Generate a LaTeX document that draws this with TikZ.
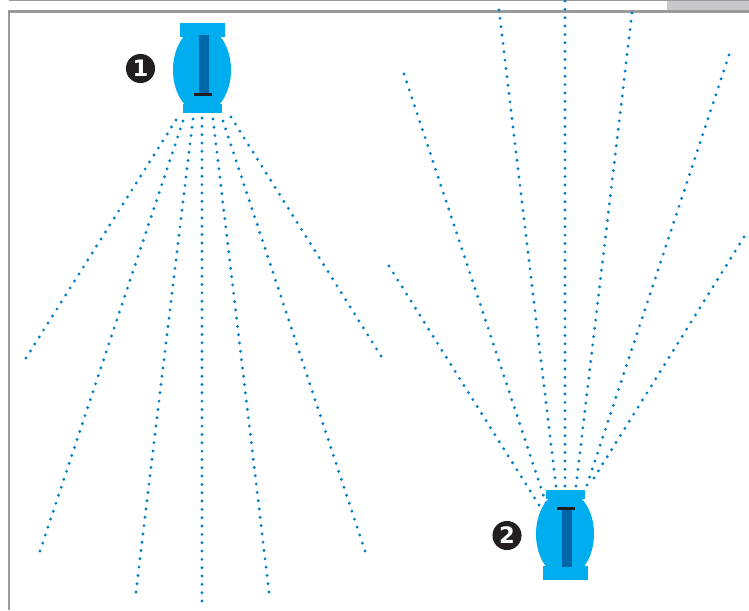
\documentclass[tikz,border=0pt]{standalone}
\usepackage{fontspec}
\usetikzlibrary{decorations}
\setmainfont{DejaVu Sans}
\definecolor{bodyblue}{HTML}{00AEEF}
\definecolor{slotblue}{HTML}{0068A8}
\definecolor{beamblue}{HTML}{0080C4}
\definecolor{framegray}{HTML}{9A9A9C}
\definecolor{tabgray}{HTML}{C8C8CA}
\definecolor{markblack}{HTML}{231F20}
\tikzset{
  beam/.style={beamblue, line width=2.4pt, line cap=round, dash pattern=on 0pt off 6.2pt, dash expand off},
  marker/.style={circle, fill=markblack, text=white, inner sep=0pt, minimum size=21.8pt, font=\bfseries\fontsize{17}{17}\selectfont}
}
\begin{document}
\begin{tikzpicture}[x=0.75pt, y=-0.75pt]
        \useasboundingbox (0,0) rectangle (749,610);
        % frame
        \fill [tabgray] (667,0) rectangle (749,10);
        \draw [framegray, line width=1.2pt] (9,0.5) --(749,0.5);
        \draw [framegray, line width=1.6pt] (9,610) --(9,11.5) --(749,11.5);
        % end points of the beams
        \coordinate (a1) at (180.4,113);
        \coordinate (a2) at (183,121);
        \coordinate (a3) at (193,119);
        \coordinate (a4) at (202,118);
        \coordinate (a5) at (213,119);
        \coordinate (a6) at (223,121);
        \coordinate (a7) at (226.6,110);
        \coordinate (a1end) at (26,358);
        \coordinate (a2end) at (40,551);
        \coordinate (a3end) at (136,592);
        \coordinate (a4end) at (202,601);
        \coordinate (a5end) at (269,592);
        \coordinate (a6end) at (365,551);
        \coordinate (a7end) at (381,356);
        \coordinate (b1) at (543.4,512);
        \coordinate (b2) at (546,503);
        \coordinate (b3) at (556,486);
        \coordinate (b4) at (565,486);
        \coordinate (b5) at (576,486);
        \coordinate (b6) at (587,485);
        \coordinate (b7) at (589.6,485);
        \coordinate (b1end) at (389,266);
        \coordinate (b2end) at (404,74);
        \coordinate (b3end) at (499,10);
        \coordinate (b4end) at (565,1);
        \coordinate (b5end) at (632,13);
        \coordinate (b6end) at (729,55);
        \coordinate (b7end) at (744,237);
        \foreach \i in {2,...,6} {
            \draw [beam] (a\i) --(a\i end);
            \draw [beam] (b\i) --(b\i end);
        }
        % drawn inward, or the outer dot goes missing
        \draw [beam] (a1end) --(a1);
        \draw [beam] (a7end) --(a7);
        \draw [beam] (b1end) --(b1);
        \draw [beam] (b7end) --(b7);
        % first unit
        \fill [bodyblue] (202,70) ellipse [x radius=29, y radius=43];
        \fill [bodyblue] (180,23) rectangle (225,37);
        \fill [bodyblue] (183,104) rectangle (222,113);
        \fill [slotblue] (199,35) rectangle (209,94);
        \fill [markblack] (194,93) rectangle (212,96);
        \node[marker] (one) at (140.5,68.5) {1};
        % second unit
        \fill [bodyblue] (565,534) ellipse [x radius=29, y radius=43];
        \fill [bodyblue] (546,490) rectangle (585,499);
        \fill [bodyblue] (543,566) rectangle (588,580);
        \fill [slotblue] (562,509) rectangle (572,567);
        \fill [markblack] (557,507) rectangle (575,510);
        \node[marker] (two) at (507,535.5) {2};
\end{tikzpicture}
\end{document}
